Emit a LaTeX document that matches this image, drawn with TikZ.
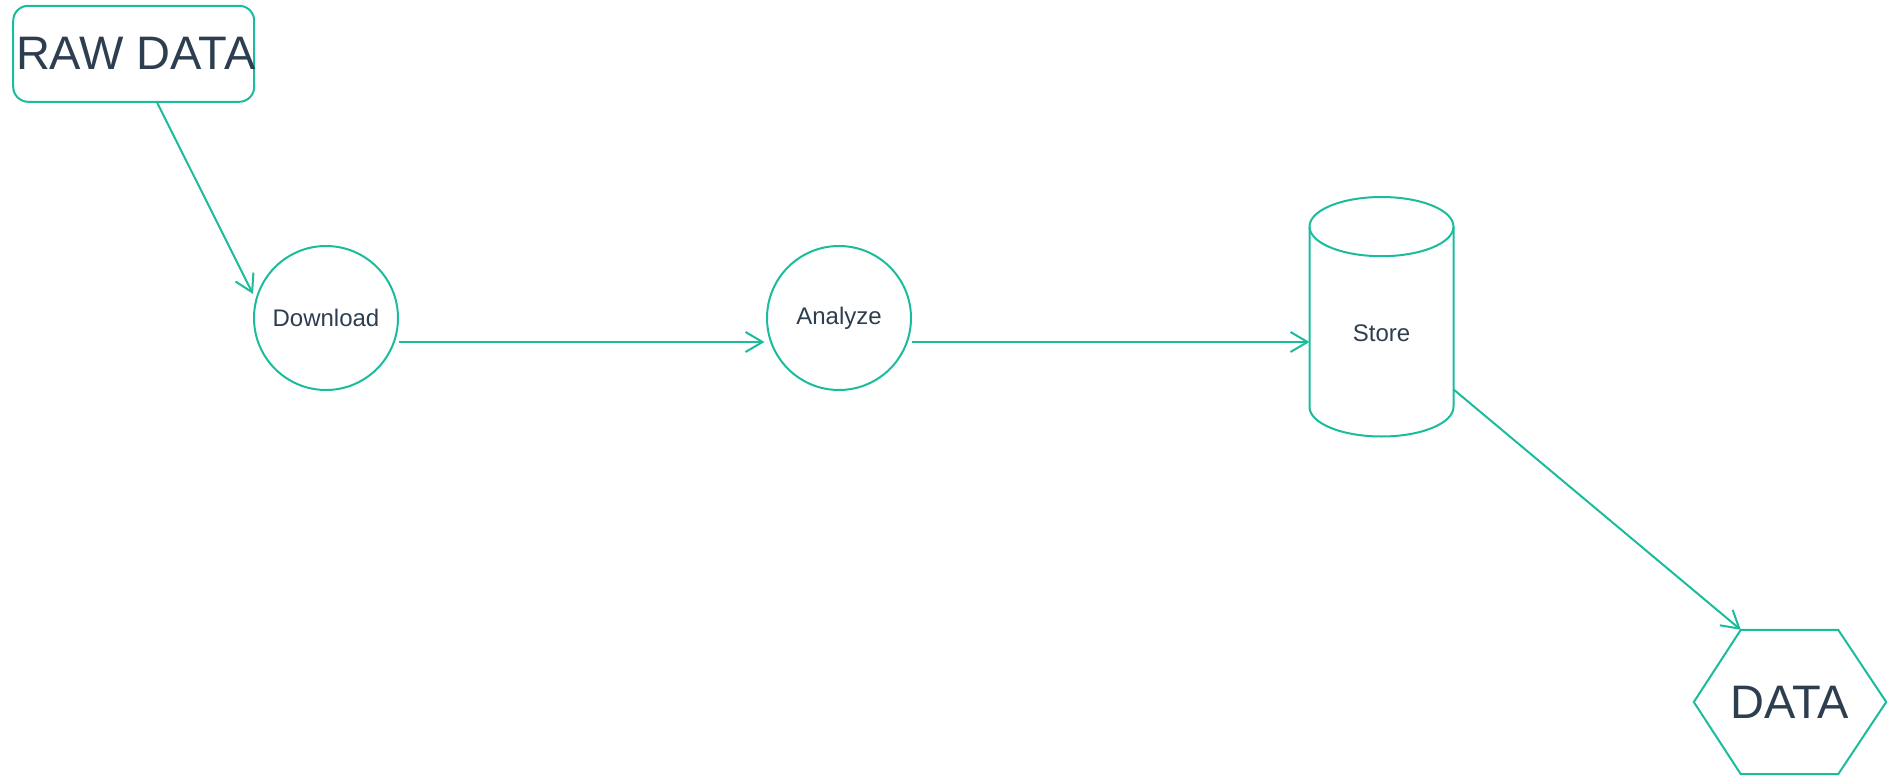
\documentclass[tikz,border=0pt]{standalone}
\usepackage{fontspec}
\setmainfont{Liberation Sans}
\usetikzlibrary{arrows.meta,calc}
\definecolor{teal1}{HTML}{1ABC9C}
\definecolor{ink}{HTML}{2C3E50}
\begin{document}
\begin{tikzpicture}[x=1pt,y=-1pt,
  shapeline/.style={draw=teal1, line width=2pt},
  smalltext/.style={text=ink, font=\fontsize{24}{28}\selectfont},
  bigtext/.style={text=ink, font=\fontsize{47}{52}\selectfont},
  conn/.style={draw=teal1, line width=2pt, -{Straight Barb[length=17pt,width=20pt,line width=2pt]}},
  circnode/.style={shapeline, circle, minimum size=144, inner sep=0pt, smalltext}]
\useasboundingbox (0,0) rectangle (1896,776);

% RAW DATA box
\node[shapeline, rounded corners=15pt, minimum width=241, minimum height=96, inner sep=0pt, bigtext] (raw) at (133.7,53.8) {\makebox[241pt]{\hspace{4pt}RAW DATA}};

% circles
\node[circnode] (download) at (326,318) {Download};
\node[circnode] (analyze) at (839,318) {Analyze};

% Store cylinder
\node[smalltext, inner sep=0pt] (store) at (1381.5,333.7) {Store};
\coordinate (cylTop) at (1381.5,226.6);
\coordinate (cylBot) at (1381.5,406.9);
\draw[shapeline] (cylTop) ellipse [x radius=72, y radius=29.6];
\draw[shapeline] ($(cylTop)+(-72,0)$) -- ($(cylBot)+(-72,0)$)
  arc[start angle=180, end angle=360, x radius=72, y radius=-29.6]
  -- ($(cylTop)+(72,0)$);
\coordinate (storeW) at (1309.5,342);
\coordinate (storeE) at (1453.5,389.4);

% DATA hexagon
\node[minimum width=192, minimum height=144, inner sep=0pt, bigtext] (data) at (1790,702) {DATA};
\draw[shapeline, line join=miter] (data.west) -- ($(data.north west)+(47,0)$) -- ($(data.north east)+(-48,0)$)
  -- (data.east) -- ($(data.south east)+(-48,0)$) -- ($(data.south west)+(47,0)$) -- cycle;
\coordinate (dataTL) at ($(data.north west)+(47,0)$);

% connectors
\draw[conn] ($(raw.south)+(23.5,0)$) -- ($(download.center)+(-73,-24)$);
\draw[conn] ($(download.east)+(0,24)$) -- ($(analyze.west)+(-1.5,24)$);
\draw[conn] ($(analyze.east)+(0,24)$) -- (storeW);
\draw[conn] (storeE) -- (dataTL);
\end{tikzpicture}
\end{document}
